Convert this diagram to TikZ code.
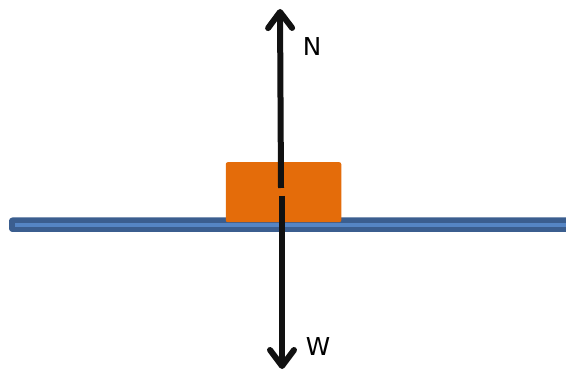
\documentclass[tikz,border=0pt]{standalone}
\usepackage{fontspec}
\setmainfont{DejaVu Sans}
\usetikzlibrary{arrows.meta}
\definecolor{barfill}{HTML}{5585C4}
\definecolor{bardraw}{HTML}{3B5E8F}
\definecolor{boxorange}{HTML}{E46C0A}
\definecolor{arrowblk}{HTML}{111111}
\begin{document}
\begin{tikzpicture}[x=0.75pt,y=-0.75pt,
  force/.style={line width=4.5pt,arrowblk,-{Straight Barb[length=12pt,width=18pt,round]}},
  lbl/.style={font=\fontsize{18.5pt}{20pt}\selectfont,text=black,inner sep=0pt}]
\useasboundingbox (0,0) rectangle (566,373);
\fill[bardraw,rounded corners=2.5pt] (9,217.5) rectangle (580,232) ;
\node[fill=barfill,inner sep=0pt,minimum width=565*0.75pt,minimum height=3.2pt,anchor=west] (bar) at (15,224.7) {};
\node[fill=boxorange,rounded corners=1.5pt,inner sep=0pt,minimum width=115.5*0.75pt,minimum height=60*0.75pt] (box) at (283.5,192.2) {};
\coordinate (nbase) at (281,188);
\coordinate (ntip) at (280,9);
\coordinate (wbase) at (282,196);
\coordinate (wtip) at (282,369);
\draw[force] (nbase) -- (ntip);
\draw[force] (wbase) -- (wtip);
\node[lbl] (N) at (312,47) {N};
\node[lbl] (W) at (318,347) {W};
\end{tikzpicture}
\end{document}
